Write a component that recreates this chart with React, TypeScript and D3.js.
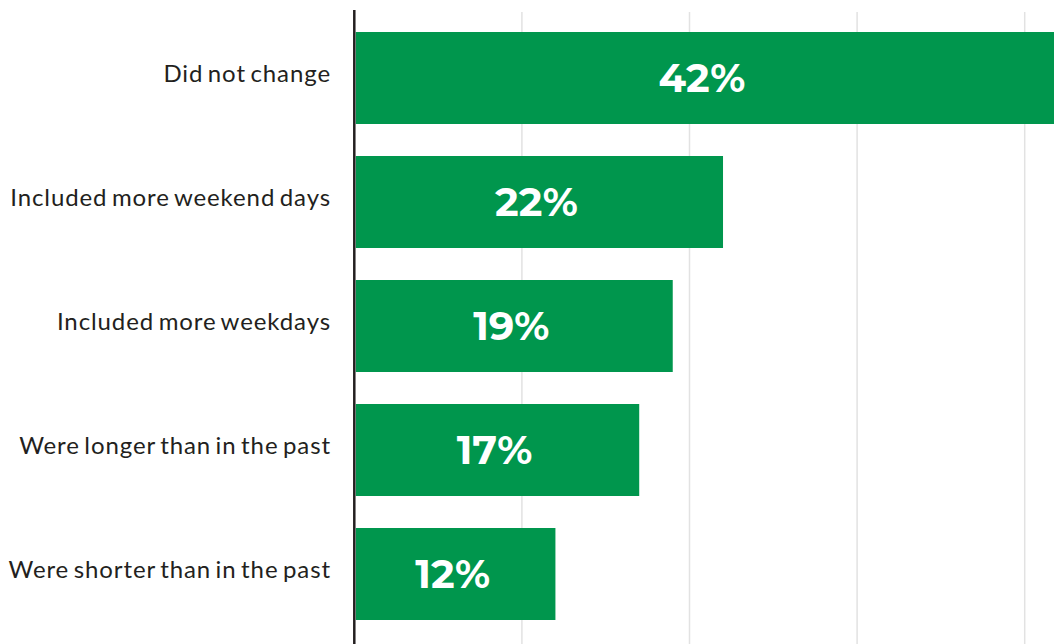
import React from "react";
import * as d3 from "d3";

const categories = [
  "Did not change",
  "Included more weekend days",
  "Included more weekdays",
  "Were longer than in the past",
  "Were shorter than in the past",
];
const values = [42, 22, 19, 17, 12];
const gridTicks = [10, 20, 30, 40];

const W = 1054;
const H = 644;
const x0 = 354.3;

export default function App() {
  const x = d3.scaleLinear().domain([0, 10]).range([x0, x0 + 167.6]);
  const y = d3
    .scaleBand<string>()
    .domain(categories)
    .range([16, 16 + 124 * 5])
    .paddingInner(32 / 124)
    .paddingOuter(16 / 124);
  const bw = y.bandwidth();
  const green = "#00964d";
  return (
    <svg
      width={W}
      height={H}
      style={{ position: "absolute", left: 0, top: 0, display: "block" }}
    >
      <rect x={0} y={0} width={W} height={H} fill="#fff" />
      {gridTicks.map((t) => (
        <line
          key={t}
          x1={x(t)}
          x2={x(t)}
          y1={12}
          y2={H}
          stroke="#e2e2e2"
          strokeWidth={1.5}
        />
      ))}
      {categories.map((c, i) => {
        const xe = Math.min(x(values[i]), W);
        const xs = x0 + 1.5;
        const yt = y(c) as number;
        return (
          <g key={c}>
            <rect x={xs} y={yt} width={xe - xs} height={bw} fill={green} />
            <text
              x={(xs + xe) / 2 - 3}
              y={yt + bw / 2 + 13.5}
              textAnchor="middle"
              fill="#fff"
              fontFamily="Montserrat, 'Open Sans', sans-serif"
              fontWeight={700}
              fontSize={40}
            >
              {values[i]}%
            </text>
            <text
              x={331}
              y={yt + bw / 2 + 4}
              textAnchor="end"
              fill="#231f20"
              fontFamily="Lato, sans-serif"
              fontSize={24}
              letterSpacing={0.9}
              wordSpacing={-2.5}
            >
              {c}
            </text>
          </g>
        );
      })}
      <line x1={x0} x2={x0} y1={10} y2={H} stroke="#231f20" strokeWidth={2.5} />
    </svg>
  );
}
